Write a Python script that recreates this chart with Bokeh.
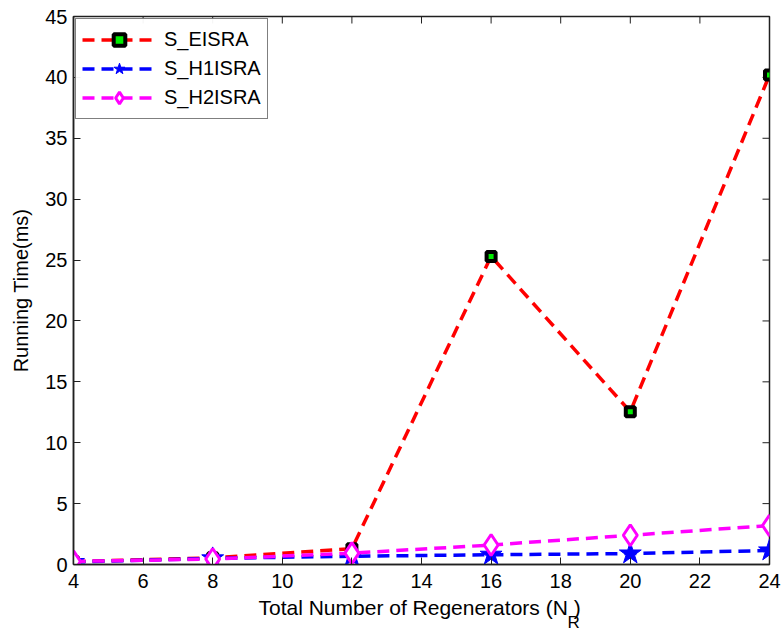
import math
from bokeh.plotting import figure
from bokeh.models import Range1d, FixedTicker, Legend, LegendItem, Title
from bokeh.embed import file_html
from bokeh.resources import INLINE

n_r = [4, 8, 12, 16, 20, 24]
s_eisra = [0.25, 0.55, 1.3, 25.3, 12.55, 40.2]
s_h1isra = [0.2, 0.5, 0.68, 0.8, 0.9, 1.15]
s_h2isra = [0.25, 0.45, 0.93, 1.6, 2.4, 3.2]
x_ticks = [4, 6, 8, 10, 12, 14, 16, 18, 20, 22, 24]
y_ticks = [0, 5, 10, 15, 20, 25, 30, 35, 40, 45]
x_min, x_max = 4, 24
y_min, y_max = 0, 45

FONT = "Liberation Sans"
FS = "20px"

p = figure(width=784, height=628, output_backend="svg", toolbar_location=None,
           x_range=Range1d(x_min, x_max), y_range=Range1d(y_min, y_max),
           min_border_left=73, min_border_right=15, min_border_top=16, min_border_bottom=64)
p.grid.visible = False
p.outline_line_color = "#202020"
p.outline_line_width = 1.5
p.background_fill_color = "white"
p.border_fill_color = "white"

for ax in (p.xaxis[0], p.yaxis[0]):
    ax.major_label_text_font = FONT
    ax.major_label_text_font_size = FS
    ax.major_label_text_color = "black"
    ax.axis_label_text_font = FONT
    ax.axis_label_text_font_size = FS
    ax.axis_label_text_font_style = "normal"
    ax.axis_label_text_color = "black"
    ax.major_tick_in = 7
    ax.major_tick_out = 0
    ax.major_tick_line_color = "#202020"
    ax.minor_tick_line_color = None
    ax.axis_line_color = "#202020"
    ax.axis_line_width = 1.5
p.xaxis.ticker = FixedTicker(ticks=x_ticks)
p.yaxis.ticker = FixedTicker(ticks=y_ticks)
p.yaxis.axis_label = "Running Time(ms)"
p.xaxis.major_label_standoff = 9
p.yaxis.major_label_standoff = 6
p.yaxis.axis_label_standoff = 10

# mirrored ticks on top and right edges (MATLAB box style)
p.ray(x=x_ticks, y=[y_max] * len(x_ticks), length=7, length_units="screen",
      angle=-math.pi / 2, line_color="#202020", line_width=1)
p.ray(x=[x_max] * len(y_ticks), y=y_ticks, length=7, length_units="screen",
      angle=math.pi, line_color="#202020", line_width=1)

# x-axis label with subscript R, built from two titles below the axis
t_main = Title(text="Total Number of Regenerators (N  )", align="left", offset=185,
               text_font=FONT, text_font_size="21px", text_font_style="normal",
               text_color="black", standoff=6)
t_sub = Title(text="R", align="left", offset=494,
              text_font=FONT, text_font_size="17px", text_font_style="normal",
              text_color="black", standoff=-21)
p.add_layout(t_main, "below")
p.add_layout(t_sub, "below")

dash = "12 7"
lw = 3.5
l1 = p.line(n_r, s_eisra, line_color="red", line_width=lw, line_dash=dash)
m1 = p.scatter(n_r, s_eisra, marker="square", size=9, fill_color="#00ee00",
               line_color="black", line_width=4)
l2 = p.line(n_r, s_h1isra, line_color="blue", line_width=lw, line_dash=dash)
m2 = p.scatter(n_r, s_h1isra, marker="star", size=23, fill_color="blue",
               line_color="blue", line_width=1)
l3 = p.line(n_r, s_h2isra, line_color="magenta", line_width=lw, line_dash=dash)
m3 = p.scatter(n_r, s_h2isra, marker="diamond", size=21, fill_color="white",
               line_color="magenta", line_width=3)

legend = Legend(items=[
    LegendItem(label="S_EISRA", renderers=[l1, m1]),
    LegendItem(label="S_H1ISRA", renderers=[l2, m2]),
    LegendItem(label="S_H2ISRA", renderers=[l3, m3]),
], location="top_left")
legend.label_text_font = FONT
legend.label_text_font_size = FS
legend.label_text_color = "black"
legend.border_line_color = "black"
legend.border_line_width = 1.5
legend.glyph_width = 74
legend.glyph_height = 29
legend.spacing = 0
legend.padding = 6
legend.margin = 2
legend.label_standoff = 8
legend.label_height = 29
p.add_layout(legend)

open("out.html", "w").write(file_html(p, INLINE))
